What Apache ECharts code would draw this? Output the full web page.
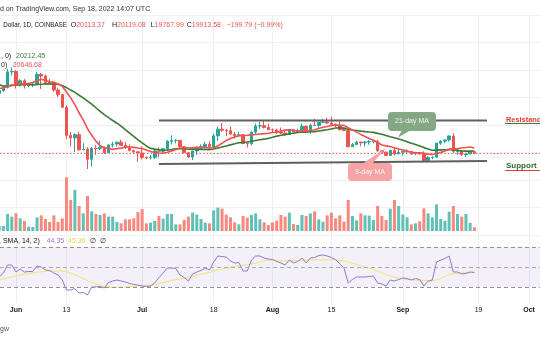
<!DOCTYPE html>
<html><head><meta charset="utf-8">
<script src="https://cdn.jsdelivr.net/npm/echarts@6/dist/echarts.min.js"></script>
<style>html,body{margin:0;padding:0;background:#fff;overflow:hidden}#c{width:540px;height:340px}</style>
</head><body><div id="c"></div>
<script>
// ---- data ----
const dates = ['2022-05-28','2022-05-29','2022-05-30','2022-05-31',
'2022-06-01','2022-06-02','2022-06-03','2022-06-04','2022-06-05','2022-06-06','2022-06-07','2022-06-08','2022-06-09','2022-06-10',
'2022-06-11','2022-06-12','2022-06-13','2022-06-14','2022-06-15','2022-06-16','2022-06-17','2022-06-18','2022-06-19','2022-06-20',
'2022-06-21','2022-06-22','2022-06-23','2022-06-24','2022-06-25','2022-06-26','2022-06-27','2022-06-28','2022-06-29','2022-06-30',
'2022-07-01','2022-07-02','2022-07-03','2022-07-04','2022-07-05','2022-07-06','2022-07-07','2022-07-08','2022-07-09','2022-07-10',
'2022-07-11','2022-07-12','2022-07-13','2022-07-14','2022-07-15','2022-07-16','2022-07-17','2022-07-18','2022-07-19','2022-07-20',
'2022-07-21','2022-07-22','2022-07-23','2022-07-24','2022-07-25','2022-07-26','2022-07-27','2022-07-28','2022-07-29','2022-07-30',
'2022-07-31','2022-08-01','2022-08-02','2022-08-03','2022-08-04','2022-08-05','2022-08-06','2022-08-07','2022-08-08','2022-08-09',
'2022-08-10','2022-08-11','2022-08-12','2022-08-13','2022-08-14','2022-08-15','2022-08-16','2022-08-17','2022-08-18','2022-08-19',
'2022-08-20','2022-08-21','2022-08-22','2022-08-23','2022-08-24','2022-08-25','2022-08-26','2022-08-27','2022-08-28','2022-08-29',
'2022-08-30','2022-08-31','2022-09-01','2022-09-02','2022-09-03','2022-09-04','2022-09-05','2022-09-06','2022-09-07','2022-09-08',
'2022-09-09','2022-09-10','2022-09-11','2022-09-12','2022-09-13','2022-09-14','2022-09-15','2022-09-16','2022-09-17','2022-09-18'];

const openP = [28620,29030,29460,31720,
31790,29800,30450,29700,29860,29910,31370,31130,30200,30110,
29090,28420,26580,22490,22130,22590,20400,20470,19010,20580,
20560,20720,19980,21100,21230,21490,21030,20730,20270,20100,
19930,19290,19240,19300,20230,20190,20550,21640,21730,21760,
20850,19970,19330,20230,20590,20830,21200,20790,22430,23400,
23240,23160,22680,22450,22580,21310,21250,22950,23850,23900,
23650,23300,23270,22980,22820,22620,23310,22960,23180,23810,
23150,23950,23940,24400,24440,24300,24100,23850,23340,23200,
20830,21140,21520,21400,21530,21580,21600,20250,20040,19550,
20290,19800,20050,20130,20150,19830,20000,19800,18790,19290,
19320,21360,21650,21830,22400,20170,20230,19700,19800,20113.37];

const highP = [29250,29560,32180,32380,
31960,30650,30680,29950,30170,31750,31560,31320,30700,30350,
29430,28550,26900,22980,22800,22990,21360,20760,20790,21050,
21720,20880,21200,21550,21590,21860,21540,21190,20400,20150,
20880,19420,19650,20340,20730,20660,21820,22500,21940,21780,
20860,20060,20240,20870,21200,21570,21670,22740,23780,24280,
23440,23750,22990,23010,22660,21340,23100,24200,24440,24650,
24180,23490,23450,23640,23220,23450,23360,23460,24240,23920,
24200,24920,24450,24880,25050,25200,24240,24450,23590,23200,
21370,21690,21520,21660,21800,21810,21880,20350,20140,20420,
20560,20490,20200,20450,20170,20000,20060,20180,19460,19450,
21460,21810,21860,22490,22790,20530,20340,19890,20180,20119.08];

const lowP = [28450,28800,29300,31200,
29300,29580,29300,29480,29500,29890,29250,29850,29950,28850,
28100,26560,21950,20850,20080,20250,20300,17600,17960,19650,
20360,19780,19900,20750,20890,20970,20510,20190,19850,18630,
19000,19000,18960,19050,19300,19780,20250,21180,21330,20650,
19880,19240,18910,19620,20400,20500,20760,20760,21680,23020,
22350,22520,22000,22300,21280,20710,21050,22600,23430,23500,
23240,22850,22680,22690,22430,22600,22930,22850,23150,22880,
22680,23900,23600,24300,24150,23780,23700,23180,23100,20800,
20800,21090,20900,20870,21130,21310,20110,19810,19530,19550,
19560,19790,19560,19760,19650,19600,19640,18680,18540,19010,
19300,21110,21360,21560,19900,19640,19500,19320,19750,19767.99];

const closeP = [29030,29460,31720,31790,
29800,30450,29700,29860,29910,31370,31130,30200,30110,29090,
28420,26580,22490,22130,22590,20400,20470,19010,20580,20560,
20720,19980,21100,21230,21490,21030,20730,20270,20100,19930,
19290,19240,19300,20230,20190,20550,21640,21730,21760,20850,
19970,19330,20230,20590,20830,21200,20790,22430,23400,23240,
23160,22680,22450,22580,21310,21250,22950,23850,23900,23650,
23300,23270,22980,22820,22620,23310,22960,23180,23810,23150,
23950,23940,24400,24440,24300,24100,23850,23340,23200,20830,
21140,21520,21400,21530,21580,21600,20250,20040,19550,20290,
19800,20050,20130,20150,19830,20000,19800,18790,19290,19320,
21360,21650,21830,22400,20170,20230,19700,19800,20113.37,19913.58];

const volume = [10000,10000,34000,28700,
35300,25300,20000,8700,8000,27300,31300,24000,18000,31300,
18000,25300,107300,62000,82000,50000,35300,70000,39300,34000,
32000,35300,28700,28700,18000,15300,23300,23300,25300,38000,
44000,15300,16700,20000,30000,24700,34000,34000,13300,13300,
22000,28700,36700,32700,24000,16700,15300,41300,46700,44700,
32700,27300,17300,13300,30000,26700,32000,35300,23300,17300,
12000,17300,20700,32000,28700,36700,14000,12000,32000,30000,
35300,39300,23300,18700,31300,36700,25300,31300,18700,62000,
30000,21300,35300,31300,30700,22000,50000,30000,22000,44700,
62000,50000,32700,27300,13300,15300,19300,45300,35300,27300,
53300,24000,20700,38700,50000,34000,28700,34000,16000,7300];

const ma9 = [29340,29370,29620,29790,
29870,29960,29970,30050,30190,30450,30640,30470,30280,30200,
29980,29630,28810,27950,26970,25780,24700,23460,22520,21650,
20990,20720,20600,20450,20570,20630,20820,20790,20740,20650,
20570,20370,20150,20010,19920,19900,20050,20230,20440,20610,
20690,20690,20690,20740,20770,20720,20620,20690,20970,21340,
21760,22040,22240,22440,22450,22500,22560,22610,22680,22740,
22800,22900,22940,23110,23260,23300,23200,23120,23140,23120,
23200,23300,23480,23680,23790,23920,23990,23940,23950,23600,
23290,22970,22630,22320,22040,21790,21450,21100,20960,20860,
20670,20520,20370,20210,20010,19980,19960,19870,19760,19710,
19850,20020,20210,20490,20510,20560,20660,20720,20810,20646.68];

const ma21 = [29870,29650,29720,29760,
29800,29870,29890,29880,29810,29880,29920,29990,29980,29970,
29930,29750,29430,29080,28750,28330,27940,27460,27040,26510,
25980,25510,25070,24660,24260,23840,23340,22820,22340,21850,
21390,20950,20600,20490,20400,20300,20360,20420,20550,20570,
20540,20470,20490,20460,20440,20430,20420,20500,20650,20800,
20950,21110,21260,21420,21470,21520,21640,21740,21850,21940,
22050,22210,22380,22510,22600,22720,22800,22920,22980,22970,
23010,23040,23130,23220,23300,23430,23560,23580,23550,23400,
23280,23200,23110,23040,22980,22930,22780,22650,22470,22300,
22150,21960,21780,21580,21360,21150,20950,20710,20510,20330,
20350,20380,20390,20440,20380,20310,20220,20200,20200,20212.45];

const rsi = [40,44,52,52,
45,48,45,45.5,45.5,51,50,47,46.5,44,
42,37,27,27,28.5,24,24.5,22,30,30,
30.5,29,34.5,36,37,36,35,33.5,32.5,32,
31,30.5,31,34,39.5,44,49,49,48.5,42,
39.5,36,43,45,46.5,49,47,55,61,60.5,
60,56,54,54.5,46,46,57,61,61,59,
58,57.5,55.5,54,52,57,54,55.5,59,54,
59,59.5,61.5,62,61,59.5,57.5,53,49,34,
37.5,40,40,40,40.5,41,34,33,31,37,
36,37.5,39,38.5,37,38.5,37.5,31,36,37,
55,57,58.5,61,45,45,43,43.5,45,44.35];

const rsiMa = [37,38,39,40,
41,42,42.8,43.5,44.2,44.8,45.2,45.6,45.9,46,
46,45.8,45.3,44,42,40.3,38.5,36.5,34.5,33,
31.8,30.7,29.8,29.5,29.5,29.7,30,30.3,30.7,31.2,
31.6,31.7,31.7,32.2,33.3,34.5,35.5,36.5,37.3,38,
38.8,39.5,40.5,41.5,42.5,43.5,44.5,46,47,48,
49,50,50.6,51.2,51.8,52.3,53,54,55,56.2,
57,56.8,56.5,56.2,56,56,56.2,56.5,56.7,56.8,
57,57,57.2,57.3,57.3,57.2,57,56.8,56.2,55,
53.8,52.5,51.2,50,49,47.5,46,44.3,42.5,41,
40,39,38.2,37.6,37.2,36.8,36.5,36.2,36,36.2,
37,38.5,40.5,42.5,43.3,43.7,44,44.5,45,45.36];

const tickDates = ['2022-06-01','2022-06-13','2022-07-01','2022-07-18','2022-08-01','2022-08-15','2022-09-01','2022-09-19','2022-10-01'];
const tickLabels = ['Jun','13','Jul','18','Aug','15','Sep','19','Oct'];

const resistanceLine = [['2022-07-05', 24670], ['2022-09-21', 24670]];
const supportLine = [['2022-07-05', 18310], ['2022-09-21', 18750]];

// ---- helpers ----
const DAY = 864e5;
const utc = s => { const p = s.split('-').map(Number); return Date.UTC(p[0], p[1]-1, p[2]); };
const ORIGIN = utc('2022-06-01');
const dayNo = s => Math.round((utc(s) - ORIGIN) / DAY);   // day number on the x scale
const xMin = -3.805, xMax = 124.61;
const tickVals = tickDates.map(dayNo);
const UP = '#26a69a', DOWN = '#ef5350';
const FONT = 'Liberation Sans';
const n = closeP.length - 1;

const candleData = dates.map((d, i) => [dayNo(d), openP[i], closeP[i], lowP[i], highP[i]]);
const volData = dates.map((d, i) => ({ value: [dayNo(d), volume[i]], itemStyle: { color: closeP[i] >= openP[i] ? '#5fc0b3' : '#f6887f' } }));
const line = arr => dates.map((d, i) => [dayNo(d), arr[i]]);

const gridColor = '#eef0f4';
function xAxisCfg(i, showLabels) {
  return {
    type: 'value', gridIndex: i, min: xMin, max: xMax,
    axisLine: { show: false },
    axisTick: { show: false, customValues: tickVals },
    splitLine: { show: i !== 1, lineStyle: { color: gridColor, width: 1 } },
    axisLabel: showLabels ? {
      show: true, customValues: tickVals, margin: 4, fontSize: 7, fontFamily: FONT, color: '#131722',
      formatter: v => {
        const k = tickVals.indexOf(Math.round(v));
        const s = k >= 0 ? tickLabels[k] : '';
        return isNaN(+s) ? '{b|' + s + '}' : s;
      },
      rich: { b: { fontWeight: 'bold', fontSize: 7, fontFamily: FONT, color: '#131722' } }
    } : { show: false }
  };
}

const chg = closeP[n] - closeP[n - 1];
const pct = chg / closeP[n - 1] * 100;
const sign = v => (v < 0 ? '\u2212' : '+') + Math.abs(v).toFixed(2);

const txt = (x, y, text, fill, extra) => ({
  type: 'text', x: x, y: y, z: 100,
  style: Object.assign({ text: text, fill: fill || '#131722', font: '7px ' + FONT, verticalAlign: 'middle', align: 'left' }, extra || {})
});
const richHdr = (x, key, val) => ({
  type: 'text', x: x, y: 25, z: 100,
  style: { text: '{k|' + key + '}{v|' + val + '}', verticalAlign: 'middle', font: '7px ' + FONT,
    rich: { k: { fill: '#131722', font: '7px ' + FONT }, v: { fill: '#f05350', font: '7px ' + FONT } } }
});

const chart = echarts.init(document.getElementById('c'), null, { renderer: 'canvas' });
chart.setOption({
  animation: false,
  backgroundColor: '#ffffff',
  grid: [
    { left: 0, right: 0, top: 15, height: 220 },
    { left: 0, right: 0, top: 171, height: 60 },
    { left: 0, right: 0, top: 232, height: 71 }
  ],
  xAxis: [xAxisCfg(0, false), xAxisCfg(1, false), xAxisCfg(2, true)],
  yAxis: [
    { type: 'value', gridIndex: 0, min: 8000, max: 40000, interval: 4000,
      axisLabel: { show: false }, axisLine: { show: false }, axisTick: { show: false },
      splitLine: { lineStyle: { color: gridColor, width: 1 } } },
    { type: 'value', gridIndex: 1, min: 0, max: 120000, show: false, splitLine: { show: false } },
    { type: 'value', gridIndex: 2, min: 14, max: 85, show: false, splitLine: { show: false } }
  ],
  series: [
    { type: 'bar', name: 'Volume', xAxisIndex: 1, yAxisIndex: 1, barWidth: 3, data: volData, z: 1 },
    { type: 'candlestick', name: 'BTCUSD', xAxisIndex: 0, yAxisIndex: 0, barWidth: 3,
      encode: { x: 0, y: [1, 2, 3, 4] }, data: candleData, z: 3,
      itemStyle: { color: UP, color0: DOWN, borderColor: UP, borderColor0: DOWN, borderWidth: 1 },
      markLine: { silent: true, symbol: 'none', label: { show: false },
        lineStyle: { color: '#f0625f', type: [1.5, 2], width: 1 }, data: [{ yAxis: closeP[n] }] } },
    { type: 'line', name: 'MA21', xAxisIndex: 0, yAxisIndex: 0, data: line(ma21), showSymbol: false,
      lineStyle: { color: '#3b7a35', width: 1.6 }, z: 4 },
    { type: 'line', name: 'MA9', xAxisIndex: 0, yAxisIndex: 0, data: line(ma9), showSymbol: false,
      lineStyle: { color: '#f4504e', width: 1.6 }, z: 4 },
    { type: 'line', name: 'Resistance', xAxisIndex: 0, yAxisIndex: 0, data: resistanceLine.map(p => [dayNo(p[0]), p[1]]),
      showSymbol: false, lineStyle: { color: '#606060', width: 2 }, z: 5 },
    { type: 'line', name: 'Support', xAxisIndex: 0, yAxisIndex: 0, data: supportLine.map(p => [dayNo(p[0]), p[1]]),
      showSymbol: false, lineStyle: { color: '#606060', width: 2 }, z: 5 },
    { type: 'line', name: 'RSI', xAxisIndex: 2, yAxisIndex: 2, data: line(rsi), showSymbol: false,
      lineStyle: { color: '#9575cd', width: 1 }, z: 4,
      markArea: { silent: true, itemStyle: { color: 'rgba(126,87,194,0.09)' }, data: [[{ yAxis: 30 }, { yAxis: 70 }]] },
      markLine: { silent: true, symbol: 'none', label: { show: false },
        lineStyle: { color: '#8e919a', type: [4, 3], width: 1 },
        data: [{ yAxis: 70 }, { yAxis: 50, lineStyle: { color: '#a9abb3' } }, { yAxis: 30 }] } },
    { type: 'line', name: 'RSI MA', xAxisIndex: 2, yAxisIndex: 2, data: line(rsiMa), showSymbol: false,
      lineStyle: { color: '#f2e36a', width: 1 }, z: 3 }
  ],
  graphic: [
    txt(0, 9, 'd on TradingView.com, Sep 18, 2022 14:07 UTC', '#2a2e39'),
    txt(3.3, 25, 'Dollar, 1D, COINBASE', '#131722', { font: '6.3px ' + FONT }),
    richHdr(70.7, 'O', openP[n].toFixed(2)),
    richHdr(112, 'H', highP[n].toFixed(2)),
    richHdr(150.7, 'L', lowP[n].toFixed(2)),
    richHdr(186.7, 'C', closeP[n].toFixed(2)),
    txt(226.7, 25, sign(chg) + ' (' + sign(pct) + '%)', '#f05350'),
    txt(1, 56, ', 0)'),
    txt(16, 56, ma21[n].toFixed(2), '#3b7a35'),
    txt(1, 65, '0)'),
    txt(12.7, 65, ma9[n].toFixed(2), '#f05350'),
    txt(-1, 241, ', SMA, 14, 2)'),
    txt(46.7, 241, rsi[n].toFixed(2), '#9575cd'),
    txt(68, 241, rsiMa[n].toFixed(2), '#e8d44d'),
    txt(90, 241, '\u2205'),
    txt(100, 241, '\u2205'),
    { type: 'polygon', z: 100, shape: { points: [[402, 130], [411, 130], [398, 137.5]] }, style: { fill: '#84a884' } },
    { type: 'rect', z: 100, shape: { x: 388, y: 112, width: 48, height: 19, r: 4 }, style: { fill: '#84a884' } },
    txt(412, 121.5, '21-day MA', '#eef4ee', { align: 'center' }),
    { type: 'polygon', z: 100, shape: { points: [[362, 164], [372, 164], [386.5, 147.5]] }, style: { fill: '#f5a3a5' } },
    { type: 'rect', z: 100, shape: { x: 348, y: 163, width: 44, height: 18, r: 4 }, style: { fill: '#f5a3a5' } },
    txt(370, 172, '9-day MA', '#fff4f4', { align: 'center' }),
    txt(506, 119.5, 'Resistance', '#e53935', { font: 'bold 7.4px ' + FONT }),
    { type: 'line', z: 100, shape: { x1: 505, y1: 123.5, x2: 540, y2: 123.5 }, style: { stroke: '#3b7a35', lineWidth: 1.2 } },
    txt(506, 166, 'Support', '#2f6b2f', { font: 'bold 8px ' + FONT }),
    { type: 'line', z: 100, shape: { x1: 505, y1: 170.5, x2: 540, y2: 170.5 }, style: { stroke: '#e53935', lineWidth: 1.2 } },
    txt(0, 329, 'gw', '#50535e')
  ]
});
</script>
</body></html>
